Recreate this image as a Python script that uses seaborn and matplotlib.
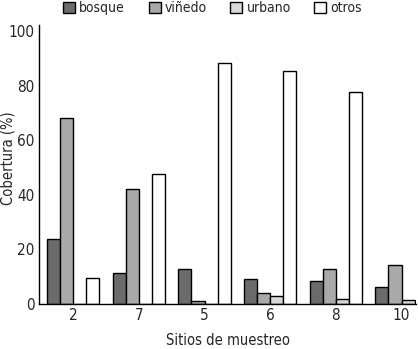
import matplotlib
matplotlib.use("Agg")
import matplotlib.pyplot as plt
import seaborn as sns
import numpy as np
import pandas as pd

# Land cover per sampling site (%)
sites = ["2", "7", "5", "6", "8", "10"]
cover_types = ["bosque", "viñedo", "urbano", "otros"]
bosque = [23.7, 11.3, 13.0, 9.0, 8.4, 6.1]
vinedo = [68.0, 42.0, 1.1, 3.9, 13.0, 14.2]
urbano = [0.0, 0.0, 0.0, 2.8, 1.8, 1.5]
otros = [9.4, 47.5, 88.3, 85.3, 77.5, np.nan]  # last one cut off in the original
yticks = [0, 20, 40, 60, 80, 100]

colors = ["#6a6b6f", "#a8a9ad", "#d8d8da", "#ffffff"]

sns.set_style("white")
plt.rcParams["font.family"] = ["Liberation Sans Narrow", "DejaVu Sans"]
plt.rcParams["font.stretch"] = "condensed"

df = pd.DataFrame({
    "sitio": sites * 4,
    "tipo": [t for t in cover_types for _ in sites],
    "valor": bosque + vinedo + urbano + otros,
})

fig = plt.figure(figsize=(4.18, 3.49), dpi=100)
ax = fig.add_axes([39 / 418, 45 / 349, 377 / 418, 279 / 349])

sns.barplot(data=df, x="sitio", y="valor", hue="tipo", order=sites,
            hue_order=cover_types, palette=colors, edgecolor="black",
            linewidth=1.0, width=0.8, ax=ax, errorbar=None)

ax.set_xlim(-0.52, 5.22)
ax.set_ylim(0, 102.2)
ax.set_yticks(yticks)
ax.set_yticklabels([str(v) for v in yticks])
ax.tick_params(axis="both", length=0, labelsize=11, pad=3)
ax.set_xlabel("Sitios de muestreo", fontsize=10.5, labelpad=7)
ax.set_ylabel("Cobertura (%)", fontsize=10.5)
ax.yaxis.set_label_coords(-0.063, 0.523)

for side in ["top", "right"]:
    ax.spines[side].set_visible(False)
for side in ["left", "bottom"]:
    ax.spines[side].set_color("black")
    ax.spines[side].set_linewidth(1.0)

# move the legend out of the axes, one row across the top
handles, labels = ax.get_legend_handles_labels()
ax.get_legend().remove()
fig.legend(handles, labels, loc="upper left",
           bbox_to_anchor=(62 / 418, 1.0), ncol=4, frameon=False,
           fontsize=10, handlelength=0.85, handleheight=0.85,
           handletextpad=0.3, columnspacing=1.7, borderpad=0.1,
           borderaxespad=0)

fig.savefig("out.png", dpi=100)
